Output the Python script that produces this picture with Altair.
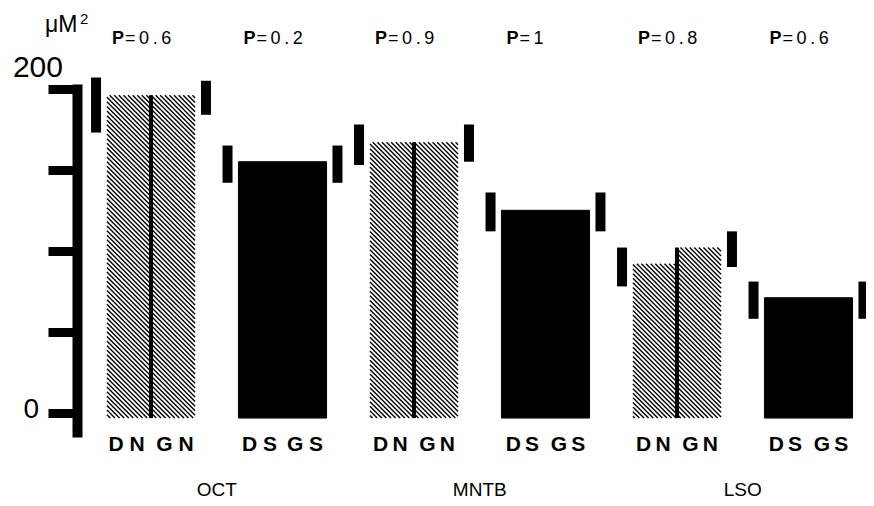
import altair as alt
import pandas as pd

# ---------------- data ----------------
regions = ["OCT", "MNTB", "LSO"]
pair_labels = ["D N\u00a0 G N", "D S\u2009 G S",
               "D\u2009N\u00a0 G\u2009N", "D\u2009S\u00a0 G\u2009S",
               "D\u2009N\u00a0 G\u2009N", "D\u2009S\u00a0 G\u2009S"]
pair_region = ["OCT", "OCT", "MNTB", "MNTB", "LSO", "LSO"]
hatched = [True, False, True, False, True, False]
p_values = ["0.6", "0.2", "0.9", "1", "0.8", "0.6"]
left_vals = [196, 155, 167, 125, 92, 71]      # DN / DS
right_vals = [196, 155, 167, 125, 102, 71]    # GN / GS
left_err_lo = [173, 142, 153, 112, 78, 58]
left_err_hi = [207, 165, 178, 136, 102, 81]
right_err_lo = [184, 142, 155, 112, 90, 58]
right_err_hi = [205, 165, 178, 136, 112, 81]
y_ticks = [0, 50, 100, 150, 200]

# ---------------- layout / style constants ----------------
PAD_L = 69
W, H = 789, 353
PX_PER_X = 131.5
X_MIN = (8 + PAD_L - 151) / PX_PER_X
X_MAX = X_MIN + W / PX_PER_X
Y_MIN, Y_MAX = -15, 203
PX_PER_Y = H / (Y_MAX - Y_MIN)
HALF = 0.335          # half bar width (x units)
ERR_OFF = 0.418       # error bar offset from pair centre
BASE = -3.3           # bars start slightly under the zero tick
HATCH_STEP = 4.6      # px
FONT = "Liberation Sans"

xs = alt.Scale(domain=[X_MIN, X_MAX], nice=False, zero=False)
ys = alt.Scale(domain=[Y_MIN, Y_MAX], nice=False, zero=False)
y_axis = alt.Axis(values=y_ticks, labels=False, title=None, grid=False,
                  domainWidth=10, domainColor="black", tickWidth=9,
                  tickSize=29, tickColor="black")


def spaced(s):
    return "\u2009".join(s)


# ---------------- derived tables ----------------
halves = []
for i in range(len(pair_labels)):
    halves.append(dict(g=i, x=i - HALF, x2=i, v=left_vals[i], base=BASE, hatched=hatched[i]))
    halves.append(dict(g=i, x=i, x2=i + HALF, v=right_vals[i], base=BASE, hatched=hatched[i]))
halves_df = pd.DataFrame(halves)
solid_df = halves_df[~halves_df.hatched]

# hatch texture for the hatched halves (diagonal "\" lines)
hatch_rows = []
for h in halves:
    if not h["hatched"]:
        continue
    ua, ub = h["x"] * PX_PER_X, h["x2"] * PX_PER_X
    wa, wb = h["base"] * PX_PER_Y, h["v"] * PX_PER_Y
    k0 = int((ua + wa) // HATCH_STEP)
    k1 = int((ub + wb) // HATCH_STEP) + 1
    for k in range(k0, k1 + 1):
        c = k * HATCH_STEP
        u1 = max(ua, c - wb)
        u2 = min(ub, c - wa)
        if u2 - u1 > 0.3:
            hatch_rows.append(dict(x=u1 / PX_PER_X, y=(c - u1) / PX_PER_Y,
                                   x2=u2 / PX_PER_X, y2=(c - u2) / PX_PER_Y))
hatch_df = pd.DataFrame(hatch_rows)

center_df = pd.DataFrame([dict(x=i, y=BASE, y2=max(left_vals[i], right_vals[i]))
                          for i in range(len(pair_labels)) if hatched[i]])

err_rows = []
for i in range(len(pair_labels)):
    err_rows.append(dict(x=i - ERR_OFF, lo=left_err_lo[i], hi=left_err_hi[i]))
    err_rows.append(dict(x=i + ERR_OFF, lo=right_err_lo[i], hi=right_err_hi[i]))
err_df = pd.DataFrame(err_rows)

lab_df = pd.DataFrame(dict(x=list(range(len(pair_labels))), lab=pair_labels,
                           p=[spaced("=" + p) for p in p_values],
                           P=["P"] * len(p_values)))
reg_df = pd.DataFrame(dict(
    reg=regions,
    x=[sum(i for i, r in enumerate(pair_region) if r == reg) /
       pair_region.count(reg) for reg in regions]))

# ---------------- layers ----------------
hatch = alt.Chart(hatch_df).mark_rule(color="black", strokeWidth=1.4).encode(
    x=alt.X("x:Q", scale=xs, axis=None), x2="x2:Q",
    y=alt.Y("y:Q", scale=ys, axis=y_axis), y2="y2:Q")

solid = alt.Chart(solid_df).mark_rect(color="black", stroke="black", strokeWidth=1).encode(
    x=alt.X("x:Q", scale=xs, axis=None), x2="x2:Q",
    y=alt.Y("v:Q", scale=ys, axis=y_axis), y2="base:Q")

center = alt.Chart(center_df).mark_rule(color="black", strokeWidth=4).encode(
    x=alt.X("x:Q", scale=xs, axis=None),
    y=alt.Y("y:Q", scale=ys, axis=y_axis), y2="y2:Q")

errs = alt.Chart(err_df).mark_rule(color="black", strokeWidth=10).encode(
    x=alt.X("x:Q", scale=xs, axis=None),
    y=alt.Y("lo:Q", scale=ys, axis=y_axis), y2="hi:Q")

bar_labels = alt.Chart(lab_df).mark_text(
    font=FONT, fontSize=21, fontWeight="bold", align="center",
    baseline="alphabetic", color="black").encode(
    x=alt.X("x:Q", scale=xs, axis=None), y=alt.value(367), text="lab:N")

p_letter = alt.Chart(lab_df).mark_text(
    font=FONT, fontSize=18, fontWeight="bold", align="right",
    baseline="alphabetic", dx=-27, color="black").encode(
    x=alt.X("x:Q", scale=xs, axis=None), y=alt.value(-40), text="P:N")

p_num = alt.Chart(lab_df).mark_text(
    font=FONT, fontSize=18, align="left",
    baseline="alphabetic", dx=-26, color="black").encode(
    x=alt.X("x:Q", scale=xs, axis=None), y=alt.value(-40), text="p:N")

reg_labels = alt.Chart(reg_df).mark_text(
    font=FONT, fontSize=19, align="center", baseline="alphabetic",
    color="black").encode(
    x=alt.X("x:Q", scale=xs, axis=None), y=alt.value(412), text="reg:N")

lab200 = alt.Chart(pd.DataFrame(dict(t=["200"]))).mark_text(
    font=FONT, fontSize=30, align="right", baseline="alphabetic",
    color="black").encode(x=alt.value(-14), y=alt.value(-7), text="t:N")
lab0 = alt.Chart(pd.DataFrame(dict(t=["0"]))).mark_text(
    font=FONT, fontSize=28, align="right", baseline="alphabetic",
    color="black").encode(x=alt.value(-38), y=alt.value(334), text="t:N")
unit = alt.Chart(pd.DataFrame(dict(t=["\u03bcM"]))).mark_text(
    font=FONT, fontSize=23, align="left", baseline="alphabetic",
    color="black").encode(x=alt.value(-32), y=alt.value(-52), text="t:N")
unit_sup = alt.Chart(pd.DataFrame(dict(t=["2"]))).mark_text(
    font=FONT, fontSize=15, align="left", baseline="alphabetic",
    color="black").encode(x=alt.value(3), y=alt.value(-60), text="t:N")

chart = alt.layer(hatch, solid, center, errs, bar_labels, p_letter, p_num,
                  reg_labels, lab200, lab0, unit, unit_sup).properties(
    width=W, height=H,
    padding={"left": PAD_L, "top": 76, "right": 0, "bottom": 69},
    autosize=alt.AutoSizeParams(type="none"),
    background="white",
).configure_view(stroke=None)

chart.save("out.html", embed_options={"renderer": "svg", "actions": False})
